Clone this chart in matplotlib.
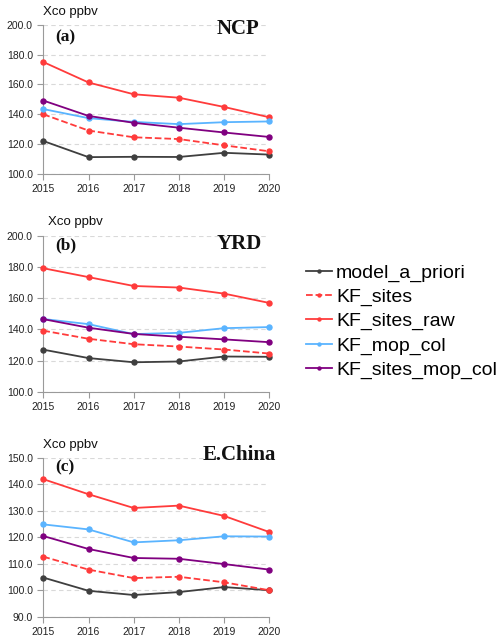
import matplotlib
matplotlib.use("Agg")
import matplotlib.pyplot as plt

years = [2015, 2016, 2017, 2018, 2019, 2020]
series_names = ["model_a_priori", "KF_sites", "KF_sites_raw", "KF_mop_col", "KF_sites_mop_col"]

# NCP
ncp_model = [122.1, 111.3, 111.5, 111.4, 114.2, 113.0]
ncp_kf_sites = [140.0, 129.1, 124.6, 123.4, 119.2, 115.2]
ncp_kf_sites_raw = [175.0, 161.3, 153.4, 151.1, 144.9, 138.0]
ncp_kf_mop_col = [143.5, 137.4, 134.9, 133.4, 134.7, 135.2]
ncp_kf_sites_mop_col = [149.2, 138.9, 134.3, 131.0, 127.8, 124.8]

# YRD
yrd_model = [127.0, 121.6, 118.9, 119.4, 122.6, 122.4]
yrd_kf_sites = [139.2, 134.0, 130.5, 129.0, 127.1, 124.5]
yrd_kf_sites_raw = [179.3, 173.6, 167.9, 166.9, 163.0, 157.0]
yrd_kf_mop_col = [146.7, 143.4, 137.0, 137.8, 140.8, 141.5]
yrd_kf_sites_mop_col = [146.6, 141.1, 137.1, 135.3, 133.6, 131.8]

# E.China
ec_model = [104.8, 99.8, 98.2, 99.3, 101.2, 100.0]
ec_kf_sites = [112.7, 107.8, 104.6, 105.1, 103.0, 100.0]
ec_kf_sites_raw = [142.0, 136.3, 131.1, 132.0, 128.1, 122.0]
ec_kf_mop_col = [124.9, 123.0, 118.1, 118.9, 120.4, 120.3]
ec_kf_sites_mop_col = [120.5, 115.6, 112.2, 111.9, 109.9, 107.8]

panels = [
    ("NCP", "(a)", [ncp_model, ncp_kf_sites, ncp_kf_sites_raw, ncp_kf_mop_col, ncp_kf_sites_mop_col], (100, 200), [100, 120, 140, 160, 180, 200]),
    ("YRD", "(b)", [yrd_model, yrd_kf_sites, yrd_kf_sites_raw, yrd_kf_mop_col, yrd_kf_sites_mop_col], (100, 200), [100, 120, 140, 160, 180, 200]),
    ("E.China", "(c)", [ec_model, ec_kf_sites, ec_kf_sites_raw, ec_kf_mop_col, ec_kf_sites_mop_col], (90, 150), [90, 100, 110, 120, 130, 140, 150]),
]

colors = ["#3f3f3f", "#ff3b3b", "#ff3b3b", "#5ab4ff", "#800080"]
styles = ["-", "--", "-", "-", "-"]

W, H = 500, 643
fig = plt.figure(figsize=(5.0, 6.43), dpi=100)

# axes rectangles in pixels: left, right, top, bottom
rects = [(43.3, 269.3, 24.7, 174.0), (43.3, 269.3, 236.0, 391.7), (43.3, 269.3, 458.0, 616.7)]
ylab_pos = [(43, 12.5), (48, 222), (43, 445)]
letter_pos = [(55, 37), (55, 245), (55, 467)]
name_pos = [(259, 28.5), (262, 244), (276, 455)]

sans = ["Liberation Sans", "DejaVu Sans"]
serif = ["Liberation Serif", "DejaVu Serif"]

handles = []
for i, (name, letter, data, ylim, yticks) in enumerate(panels):
    l, r, t, b = rects[i]
    ax = fig.add_axes([l / W, 1 - b / H, (r - l) / W, (b - t) / H])
    for j, vals in enumerate(data):
        h, = ax.plot(years, vals, color=colors[j], linestyle=styles[j], linewidth=1.3,
                     marker="o", markersize=3.6, label=series_names[j], clip_on=False, zorder=3)
        if i == 0:
            handles.append(h)
    ax.set_xlim(2015, 2020)
    ax.set_ylim(*ylim)
    ax.set_xticks(years)
    ax.set_xticklabels([str(y) for y in years])
    ax.set_yticks(yticks)
    ax.set_yticklabels([f"{v:.1f}" for v in yticks])
    for s in ["top", "right"]:
        ax.spines[s].set_visible(False)
    for s in ["left", "bottom"]:
        ax.spines[s].set_color("#9a9a9a")
        ax.spines[s].set_linewidth(0.8)
    ax.tick_params(axis="both", colors="#9a9a9a", labelcolor="#222222", labelsize=7.5, length=4, width=0.8)
    for lab in ax.get_xticklabels() + ax.get_yticklabels():
        lab.set_fontfamily(sans)
    ax.yaxis.grid(True, linestyle=(0, (4, 3)), color="#d9d9d9", linewidth=0.8)
    ax.set_axisbelow(True)

    fig.text(ylab_pos[i][0] / W, 1 - ylab_pos[i][1] / H, "Xco ppbv", ha="left", va="center",
             fontsize=9.5, family=sans, color="#111111")
    fig.text(letter_pos[i][0] / W, 1 - letter_pos[i][1] / H, letter, ha="left", va="center",
             fontsize=12.5, fontweight="bold", family=serif, color="#111111")
    fig.text(name_pos[i][0] / W, 1 - name_pos[i][1] / H, name, ha="right", va="center",
             fontsize=15, fontweight="bold", family=serif, color="#111111")

fig.legend(handles=handles, labels=series_names, loc="center left",
           bbox_to_anchor=(306 / W, 1 - 321.5 / H), frameon=False,
           prop={"family": sans, "size": 14}, handlelength=1.35, handletextpad=0.2,
           labelspacing=0.34, borderaxespad=0, borderpad=0, markerscale=0.6)

fig.savefig("out.png", dpi=100)
